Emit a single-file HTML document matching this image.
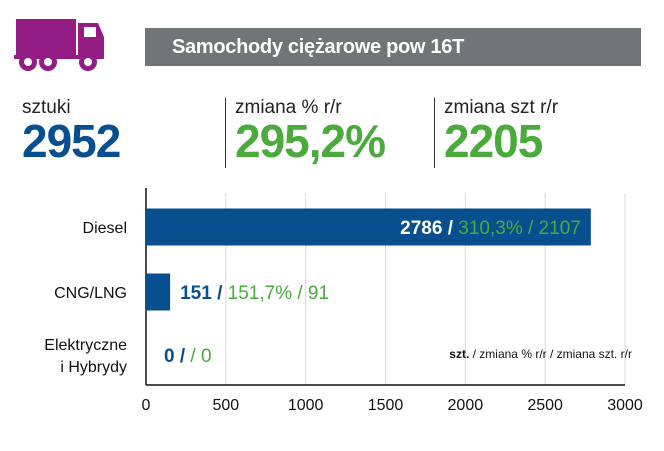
<!DOCTYPE html>
<html><head><meta charset="utf-8"><style>
body{margin:0;width:664px;height:451px;background:#fff;font-family:"Liberation Sans",sans-serif;overflow:hidden;position:relative}
.a{position:absolute}
.lbl{font-size:19px;color:#222;}
.big{font-size:46px;font-weight:bold;letter-spacing:-1px}
</style></head><body>
<svg class="a" style="left:14px;top:17px" width="92" height="56" viewBox="0 0 92 56">
<rect x="2" y="2" width="60" height="36" fill="#931d84"/>
<path d="M64 6 H84 L90 20 V42 H64 Z" fill="#931d84"/>
<rect x="70" y="10" width="12" height="10" fill="#fff"/>
<rect x="0" y="38" width="90" height="4" fill="#931d84"/>
<circle cx="14" cy="45" r="9" fill="#931d84"/><circle cx="14" cy="45" r="4" fill="#fff"/>
<circle cx="34" cy="45" r="9" fill="#931d84"/><circle cx="34" cy="45" r="4" fill="#fff"/>
<circle cx="74" cy="45" r="9" fill="#931d84"/><circle cx="74" cy="45" r="4" fill="#fff"/>
</svg>
<div class="a" style="left:145px;top:28px;width:496px;height:38px;background:#717577;color:#fff;font-weight:bold;font-size:20px;letter-spacing:-0.3px;line-height:38px;padding-left:27px;box-sizing:border-box">Samochody ciężarowe pow 16T</div>
<div class="a lbl" style="left:22px;top:97px">sztuki</div>
<div class="a big" style="left:22px;top:114px;color:#074f8f">2952</div>
<div class="a" style="left:225px;top:98px;width:1px;height:70px;background:#333"></div>
<div class="a lbl" style="left:235px;top:97px">zmiana % r/r</div>
<div class="a big" style="left:235px;top:114px;color:#4aaa3c">295,2%</div>
<div class="a" style="left:434px;top:98px;width:1px;height:70px;background:#333"></div>
<div class="a lbl" style="left:444px;top:97px">zmiana szt r/r</div>
<div class="a big" style="left:444px;top:114px;color:#4aaa3c">2205</div>
<svg class="a" id="chart" style="left:0;top:180px" width="664" height="271"></svg>
<script>
const categories=["Diesel","CNG/LNG","Elektryczne|i Hybrydy"];
const units=[2786,151,0];
const pctChange=["310,3%","151,7%",""];
const unitChange=[2107,91,0];
const ticks=[0,500,1000,1500,2000,2500,3000];
const svg=document.getElementById('chart');const NS="http://www.w3.org/2000/svg";
const x0=146,x1=625,yTop=13,yAxis=205;
const sx=v=>x0+(v/3000)*(x1-x0);
const rowC=[47,112,175];
function mk(t,a,txt){const e=document.createElementNS(NS,t);for(const k in a)e.setAttribute(k,a[k]);if(txt!=null)e.textContent=txt;svg.appendChild(e);return e;}
ticks.forEach(t=>{
 if(t>0){const g=mk('line',{x1:sx(t),x2:sx(t),y1:yTop,y2:yAxis,stroke:'#d9d9d9','stroke-width':1});
 }
 const tl=mk('text',{x:sx(t),y:yAxis+25,'text-anchor':'middle','font-size':16,fill:'#111','font-family':'Liberation Sans'},t);
 
});
const ax=mk('line',{x1:x0,x2:x1,y1:yAxis,y2:yAxis,stroke:'#111','stroke-width':1.5});

const ay=mk('line',{x1:x0,x2:x0,y1:yTop-5,y2:yAxis,stroke:'#111','stroke-width':1.5});

categories.forEach((c,i)=>{
 const cy=rowC[i];
 const parts=c.split('|');
 parts.forEach((p,j)=>{const t=mk('text',{x:127,y:cy+6+(j-(parts.length-1)/2)*22,'text-anchor':'end','font-size':16,fill:'#111','font-family':'Liberation Sans'},p);
 });
 const w=sx(units[i])-x0;
 if(units[i]>0){const b=mk('rect',{x:x0,y:cy-18.5,width:w,height:37,fill:'#074f8f'});
 }
 const inside=w>200;
 const t=mk('text',{'font-size':19,'font-family':'Liberation Sans',y:cy+7});
 
 const s1=document.createElementNS(NS,'tspan');s1.setAttribute('font-weight','bold');s1.setAttribute('fill',inside?'#fff':'#074f8f');s1.textContent=units[i]+' / ';t.appendChild(s1);
 const s2=document.createElementNS(NS,'tspan');s2.setAttribute('fill','#4aaa3c');s2.textContent=(pctChange[i]?pctChange[i]+' ':' ')+'/ '+unitChange[i];t.appendChild(s2);
 if(inside){t.setAttribute('text-anchor','end');t.setAttribute('x',sx(units[i])-10);}
 else{t.setAttribute('x',Math.max(sx(units[i]),x0+8)+10);}
});
const n=mk('text',{x:632,y:178,'text-anchor':'end','font-size':12,fill:'#111','font-family':'Liberation Sans'});

n.innerHTML='<tspan font-weight="bold">szt.</tspan> / zmiana % r/r / zmiana szt. r/r';
</script>
</body></html>
